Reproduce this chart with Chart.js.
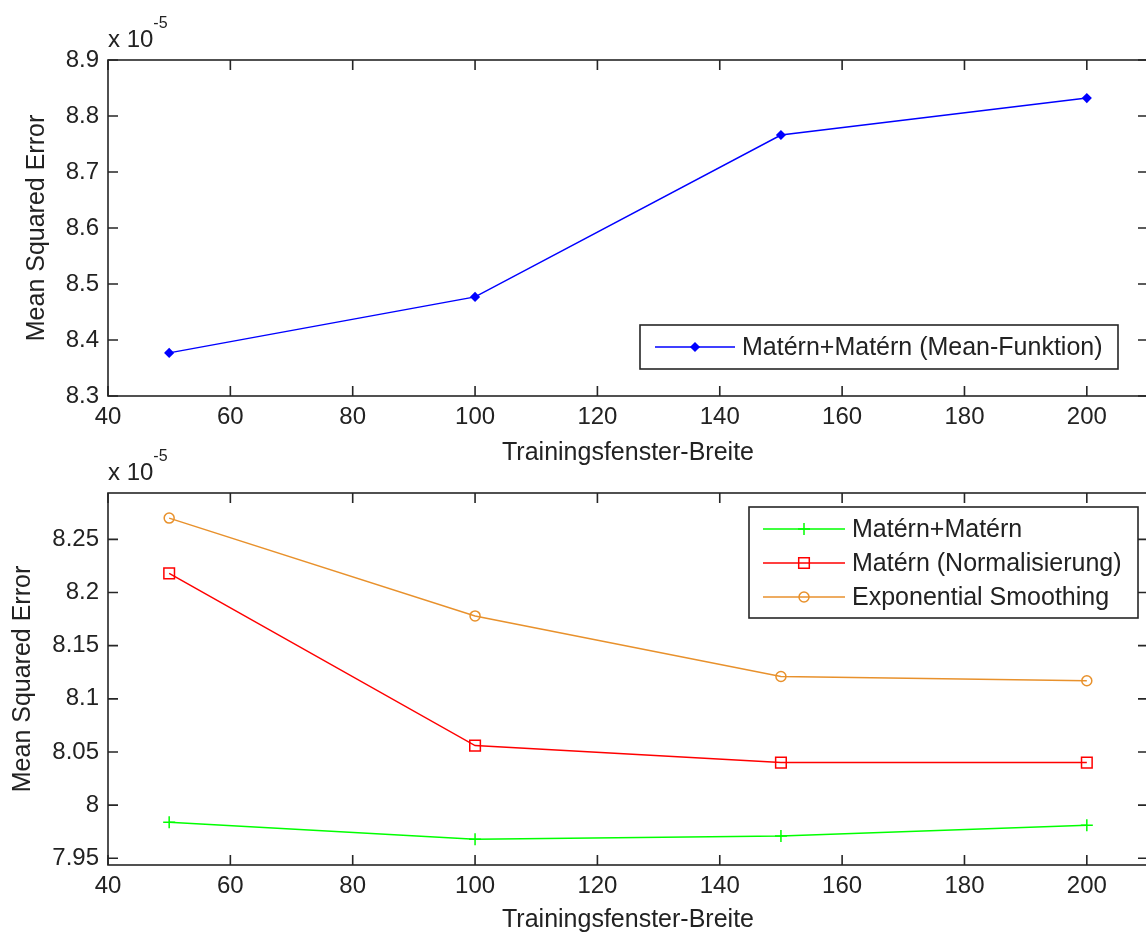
<!DOCTYPE html>
<html>
<head>
<meta charset="utf-8">
<script src="https://cdn.jsdelivr.net/npm/chart.js@4.4.1/dist/chart.umd.min.js"></script>
<style>
  html, body { margin: 0; padding: 0; background: #fff; overflow: hidden; width: 1146px; height: 933px; }
  .wrap { position: absolute; left: 0; }
  #topWrap { top: 0; }
  #botWrap { top: 440px; }
  canvas { display: block; }
</style>
</head>
<body>
<div class="wrap" id="topWrap"><canvas id="chartTop" width="1150" height="468"></canvas></div>
<div class="wrap" id="botWrap"><canvas id="chartBot" width="1150" height="495"></canvas></div>
<script>
// -------- datos (MSE in Einheiten von 1e-5) ----------
const windowWidths = [50, 100, 150, 200];
const meanFnMSE    = [8.377, 8.477, 8.766, 8.832];   // Matérn+Matérn (Mean-Funktion)
const maternMSE    = [7.984, 7.968, 7.971, 7.981];   // Matérn+Matérn
const normMSE      = [8.218, 8.056, 8.040, 8.040];   // Matérn (Normalisierung)
const expSmoothMSE = [8.270, 8.178, 8.121, 8.117];   // Exponential Smoothing

const xLabel = "Trainingsfenster-Breite";
const yLabel = "Mean Squared Error";

const FONT = '"Liberation Sans", Arial, sans-serif';
const INK = "#222";

// -------- plugins ----------
const matlabAxes = {
  id: "matlabAxes",
  afterDatasetsDraw(chart) {
    const { ctx, chartArea: a, scales: { x, y } } = chart;
    ctx.save();
    ctx.strokeStyle = "#262626";
    ctx.lineWidth = 1.6;
    ctx.strokeRect(a.left, a.top, a.right - a.left, a.bottom - a.top);
    ctx.beginPath();
    x.ticks.forEach((t) => {
      const px = x.getPixelForValue(t.value);
      ctx.moveTo(px, a.bottom); ctx.lineTo(px, a.bottom - 10);
      ctx.moveTo(px, a.top);    ctx.lineTo(px, a.top + 10);
    });
    y.ticks.forEach((t) => {
      const py = y.getPixelForValue(t.value);
      ctx.moveTo(a.left, py);  ctx.lineTo(a.left + 10, py);
      ctx.moveTo(a.right, py); ctx.lineTo(a.right - 10, py);
    });
    ctx.stroke();

    // "x 10^-5"
    ctx.fillStyle = INK;
    ctx.textBaseline = "alphabetic";
    ctx.textAlign = "left";
    ctx.font = "24px " + FONT;
    ctx.fillText("x 10", a.left, a.top - 13);
    const w = ctx.measureText("x 10").width;
    ctx.font = "16px " + FONT;
    ctx.fillText("-5", a.left + w, a.top - 32);
    ctx.restore();
  }
};

const boxLegend = {
  id: "boxLegend",
  afterDraw(chart, args, o) {
    const { ctx } = chart;
    ctx.save();
    ctx.fillStyle = "#fff";
    ctx.fillRect(o.left, o.top, o.width, o.height);
    ctx.strokeStyle = "#262626";
    ctx.lineWidth = 1.6;
    ctx.strokeRect(o.left, o.top, o.width, o.height);
    chart.data.datasets.forEach((ds, i) => {
      const cy = o.top + o.firstRow + i * o.rowGap;
      ctx.strokeStyle = ds.borderColor;
      ctx.lineWidth = ds.borderWidth;
      ctx.beginPath();
      ctx.moveTo(o.left + o.lineStart, cy);
      ctx.lineTo(o.left + o.lineEnd, cy);
      ctx.stroke();
      ctx.fillStyle = ds.pointBackgroundColor;
      ctx.strokeStyle = ds.borderColor;
      ctx.lineWidth = ds.pointBorderWidth;
      Chart.helpers.drawPoint(ctx, { pointStyle: ds.pointStyle, radius: ds.pointRadius, borderWidth: ds.pointBorderWidth, rotation: 0 },
        o.left + (o.lineStart + o.lineEnd) / 2, cy);
      ctx.fillStyle = INK;
      ctx.font = "25px " + FONT;
      ctx.textBaseline = "middle";
      ctx.textAlign = "left";
      ctx.fillText(ds.label, o.left + o.textStart, cy + 1);
    });
    ctx.restore();
  }
};

// -------- helpers ----------
function series(label, data, color, style, radius, fill) {
  return {
    label, data,
    borderColor: color, borderWidth: 1.5,
    pointStyle: style, pointRadius: radius, pointHoverRadius: radius,
    pointBorderColor: color, pointBackgroundColor: fill, pointBorderWidth: 1.5,
    tension: 0, fill: false
  };
}

function buildScales(yMin, yMax, yStep, yTitlePad, xHeight) {
  return {
    x: {
      type: "linear", min: 40, max: 210,
      grid: { display: false, drawTicks: false }, border: { display: false },
      ticks: { stepSize: 20, includeBounds: false, padding: 7, color: INK, font: { family: FONT, size: 24 } },
      title: { display: true, text: xLabel, color: INK, font: { family: FONT, size: 25 }, padding: 0 },
      afterFit: (s) => { s.height = xHeight; s.paddingLeft = 0; s.paddingRight = 0; }
    },
    y: {
      type: "linear", min: yMin, max: yMax,
      grid: { display: false, drawTicks: false }, border: { display: false },
      ticks: {
        stepSize: yStep, includeBounds: false, padding: 9, color: INK,
        font: { family: FONT, size: 24 },
        callback: (v) => String(+v.toFixed(2))
      },
      title: { display: true, text: yLabel, color: INK, font: { family: FONT, size: 25 }, padding: { top: yTitlePad, bottom: 0 } },
      afterFit: (s) => { s.width = 108; s.paddingTop = 0; s.paddingBottom = 0; }
    }
  };
}

function baseOptions(scales, padTop, legend) {
  return {
    responsive: false, animation: false, devicePixelRatio: 1,
    // autoPadding aus, sonst schieben die Marker den rechten Rand nach innen
    layout: { autoPadding: false, padding: { top: padTop, right: 2, bottom: 0, left: 0 } },
    plugins: { legend: { display: false }, tooltip: { enabled: false }, boxLegend: legend },
    scales
  };
}

const toXY = (arr) => arr.map((v, i) => ({ x: windowWidths[i], y: v }));

// -------- oben ----------
new Chart(document.getElementById("chartTop"), {
  type: "line",
  data: {
    datasets: [
      series("Matérn+Matérn (Mean-Funktion)", toXY(meanFnMSE), "#0000ff", "rectRot", 4, "#0000ff")
    ]
  },
  options: baseOptions(buildScales(8.3, 8.9, 0.1, 22, 72), 60,
    { left: 640, top: 325, width: 478, height: 44, firstRow: 22, rowGap: 34, lineStart: 15, lineEnd: 95, textStart: 102 }),
  plugins: [matlabAxes, boxLegend]
});

// -------- unten ----------
new Chart(document.getElementById("chartBot"), {
  type: "line",
  data: {
    datasets: [
      series("Matérn+Matérn", toXY(maternMSE), "#00ff00", "cross", 6, "rgba(0,0,0,0)"),
      series("Matérn (Normalisierung)", toXY(normMSE), "#ff0000", "rect", 7.5, "rgba(0,0,0,0)"),
      series("Exponential Smoothing", toXY(expSmoothMSE), "#e8912c", "circle", 5, "rgba(0,0,0,0)")
    ]
  },
  options: baseOptions(buildScales(7.9437, 8.2936, 0.05, 8, 70), 53,
    { left: 749, top: 67, width: 389, height: 111, firstRow: 22, rowGap: 34, lineStart: 14, lineEnd: 96, textStart: 103 }),
  plugins: [matlabAxes, boxLegend]
});
</script>
</body>
</html>
